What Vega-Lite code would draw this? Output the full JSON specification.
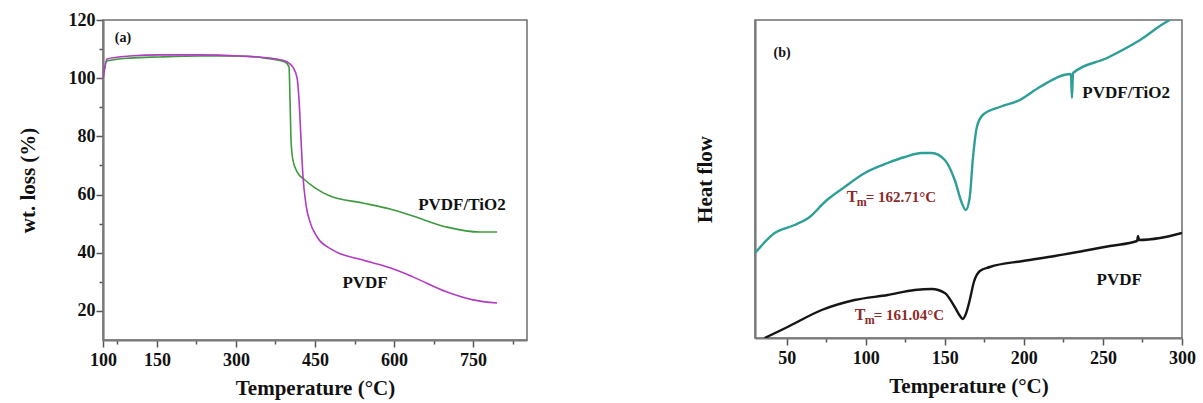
{
  "$schema": "https://vega.github.io/schema/vega-lite/v6.json",
  "background": "white",
  "padding": {"left": 16, "top": 10, "right": 5, "bottom": 2},
  "spacing": 165,
  "resolve": {"scale": {"color": "independent"}},
  "config": {
    "font": "Liberation Serif",
    "view": {"stroke": "#6e6e6e", "strokeWidth": 1.5},
    "axis": {
      "domainColor": "#7a7a7a",
      "domainWidth": 2.2,
      "tickColor": "#555555",
      "tickWidth": 1.5,
      "grid": false,
      "labelFont": "Liberation Serif",
      "labelFontWeight": "bold",
      "labelFontSize": 18,
      "labelColor": "#111111",
      "labelOverlap": false,
      "labelFlush": false,
      "titleFont": "Liberation Serif",
      "titleFontWeight": "bold",
      "titleFontSize": 21,
      "titleColor": "#111111"
    }
  },
  "datasets": {
    "tga": [
      {"sample": "PVDF/TiO2", "temp": 47.5, "wt": 99.7},
      {"sample": "PVDF/TiO2", "temp": 55, "wt": 105.9},
      {"sample": "PVDF/TiO2", "temp": 98.7, "wt": 106.9},
      {"sample": "PVDF/TiO2", "temp": 155.7, "wt": 107.3},
      {"sample": "PVDF/TiO2", "temp": 231.7, "wt": 107.6},
      {"sample": "PVDF/TiO2", "temp": 307.6, "wt": 107.6},
      {"sample": "PVDF/TiO2", "temp": 355, "wt": 106.9},
      {"sample": "PVDF/TiO2", "temp": 393, "wt": 105.6},
      {"sample": "PVDF/TiO2", "temp": 400.7, "wt": 103.8},
      {"sample": "PVDF/TiO2", "temp": 402.6, "wt": 92.5},
      {"sample": "PVDF/TiO2", "temp": 404.5, "wt": 78.75},
      {"sample": "PVDF/TiO2", "temp": 408, "wt": 71.9},
      {"sample": "PVDF/TiO2", "temp": 416, "wt": 67.8},
      {"sample": "PVDF/TiO2", "temp": 431, "wt": 65},
      {"sample": "PVDF/TiO2", "temp": 450, "wt": 62.3},
      {"sample": "PVDF/TiO2", "temp": 478.5, "wt": 59.5},
      {"sample": "PVDF/TiO2", "temp": 541, "wt": 57.1},
      {"sample": "PVDF/TiO2", "temp": 592.5, "wt": 55},
      {"sample": "PVDF/TiO2", "temp": 636, "wt": 52.6},
      {"sample": "PVDF/TiO2", "temp": 700.7, "wt": 48.8},
      {"sample": "PVDF/TiO2", "temp": 763, "wt": 47.1},
      {"sample": "PVDF/TiO2", "temp": 795.7, "wt": 47.1},
      {"sample": "PVDF", "temp": 47.5, "wt": 99.7},
      {"sample": "PVDF", "temp": 55, "wt": 106.6},
      {"sample": "PVDF", "temp": 98.7, "wt": 107.6},
      {"sample": "PVDF", "temp": 155.7, "wt": 108},
      {"sample": "PVDF", "temp": 231.7, "wt": 108},
      {"sample": "PVDF", "temp": 307.6, "wt": 107.6},
      {"sample": "PVDF", "temp": 364.6, "wt": 106.9},
      {"sample": "PVDF", "temp": 393, "wt": 105.9},
      {"sample": "PVDF", "temp": 408, "wt": 103.8},
      {"sample": "PVDF", "temp": 416, "wt": 100},
      {"sample": "PVDF", "temp": 419.7, "wt": 92.5},
      {"sample": "PVDF", "temp": 423.5, "wt": 78.75},
      {"sample": "PVDF", "temp": 427, "wt": 66.7},
      {"sample": "PVDF", "temp": 433, "wt": 56.4},
      {"sample": "PVDF", "temp": 440.5, "wt": 50.6},
      {"sample": "PVDF", "temp": 454, "wt": 45.4},
      {"sample": "PVDF", "temp": 484, "wt": 40.9},
      {"sample": "PVDF", "temp": 541, "wt": 37.5},
      {"sample": "PVDF", "temp": 592.5, "wt": 34.8},
      {"sample": "PVDF", "temp": 636, "wt": 31.7},
      {"sample": "PVDF", "temp": 700.7, "wt": 26.5},
      {"sample": "PVDF", "temp": 750, "wt": 23.8},
      {"sample": "PVDF", "temp": 795.7, "wt": 22.7}
    ],
    "tgaLabels": [
      {"label": "PVDF/TiO2", "temp": 729, "wt": 56.4},
      {"label": "PVDF", "temp": 545, "wt": 29.6}
    ],
    "tgaPanel": [{"label": "(a)", "temp": 85.4, "wt": 113.8}],
    "dsc": [
      {"sample": "PVDF/TiO2", "temp": 30, "hf": 8.5},
      {"sample": "PVDF/TiO2", "temp": 42.4, "hf": 10.5},
      {"sample": "PVDF/TiO2", "temp": 55.1, "hf": 11.3},
      {"sample": "PVDF/TiO2", "temp": 64.6, "hf": 12.1},
      {"sample": "PVDF/TiO2", "temp": 74.1, "hf": 13.6},
      {"sample": "PVDF/TiO2", "temp": 86.7, "hf": 15.1},
      {"sample": "PVDF/TiO2", "temp": 99.4, "hf": 16.5},
      {"sample": "PVDF/TiO2", "temp": 113.9, "hf": 17.5},
      {"sample": "PVDF/TiO2", "temp": 124.7, "hf": 18.1},
      {"sample": "PVDF/TiO2", "temp": 135.4, "hf": 18.5},
      {"sample": "PVDF/TiO2", "temp": 141.8, "hf": 18.5},
      {"sample": "PVDF/TiO2", "temp": 150, "hf": 17.8},
      {"sample": "PVDF/TiO2", "temp": 156.3, "hf": 15.8},
      {"sample": "PVDF/TiO2", "temp": 160.8, "hf": 13.5},
      {"sample": "PVDF/TiO2", "temp": 163.3, "hf": 12.8},
      {"sample": "PVDF/TiO2", "temp": 165.8, "hf": 14.1},
      {"sample": "PVDF/TiO2", "temp": 167.7, "hf": 17.8},
      {"sample": "PVDF/TiO2", "temp": 170.3, "hf": 21.1},
      {"sample": "PVDF/TiO2", "temp": 174, "hf": 22.3},
      {"sample": "PVDF/TiO2", "temp": 184.8, "hf": 23.1},
      {"sample": "PVDF/TiO2", "temp": 197.5, "hf": 23.8},
      {"sample": "PVDF/TiO2", "temp": 210.1, "hf": 25.1},
      {"sample": "PVDF/TiO2", "temp": 229.8, "hf": 26.4},
      {"sample": "PVDF/TiO2", "temp": 230.4, "hf": 24.0},
      {"sample": "PVDF/TiO2", "temp": 231.1, "hf": 26.5},
      {"sample": "PVDF/TiO2", "temp": 252.6, "hf": 28.0},
      {"sample": "PVDF/TiO2", "temp": 273.5, "hf": 29.8},
      {"sample": "PVDF/TiO2", "temp": 291.2, "hf": 31.7},
      {"sample": "PVDF/TiO2", "temp": 292.5, "hf": 31.8},
      {"sample": "PVDF", "temp": 36.1, "hf": 0},
      {"sample": "PVDF", "temp": 50.6, "hf": 1.1},
      {"sample": "PVDF", "temp": 72.2, "hf": 2.8},
      {"sample": "PVDF", "temp": 93.0, "hf": 3.8},
      {"sample": "PVDF", "temp": 113.9, "hf": 4.3},
      {"sample": "PVDF", "temp": 131.0, "hf": 4.8},
      {"sample": "PVDF", "temp": 141.8, "hf": 4.9},
      {"sample": "PVDF", "temp": 150.0, "hf": 4.5},
      {"sample": "PVDF", "temp": 156.3, "hf": 3.1},
      {"sample": "PVDF", "temp": 160.1, "hf": 2.1},
      {"sample": "PVDF", "temp": 161.4, "hf": 1.9},
      {"sample": "PVDF", "temp": 163.3, "hf": 2.4},
      {"sample": "PVDF", "temp": 165.8, "hf": 3.8},
      {"sample": "PVDF", "temp": 168.4, "hf": 5.6},
      {"sample": "PVDF", "temp": 172.2, "hf": 6.7},
      {"sample": "PVDF", "temp": 178.5, "hf": 7.1},
      {"sample": "PVDF", "temp": 199.4, "hf": 7.7},
      {"sample": "PVDF", "temp": 219.7, "hf": 8.2},
      {"sample": "PVDF", "temp": 237.4, "hf": 8.7},
      {"sample": "PVDF", "temp": 254.5, "hf": 9.2},
      {"sample": "PVDF", "temp": 271.6, "hf": 9.7},
      {"sample": "PVDF", "temp": 272.2, "hf": 10.2},
      {"sample": "PVDF", "temp": 272.8, "hf": 9.8},
      {"sample": "PVDF", "temp": 286.1, "hf": 10.0},
      {"sample": "PVDF", "temp": 300, "hf": 10.5}
    ],
    "dscLabels": [
      {"label": "PVDF/TiO2", "temp": 237, "hf": 24.5},
      {"label": "PVDF", "temp": 246, "hf": 5.8}
    ],
    "dscPanel": [{"label": "(b)", "temp": 47.1, "hf": 28.5}],
    "tm": [
      {"temp": 88.0, "hf": 14.1, "sym": "T", "sub": "m", "rest": "= 162.71°C"},
      {"temp": 93.0, "hf": 2.3, "sym": "T", "sub": "m", "rest": "= 161.04°C"}
    ]
  },
  "hconcat": [
    {
      "width": 424,
      "height": 320,
      "encoding": {
        "x": {
          "field": "temp", "type": "quantitative",
          "scale": {"domain": [47.5, 852.5], "nice": false, "zero": false},
          "axis": {
            "title": "Temperature (°C)",
            "values": [47.5, 75, 150, 225, 300, 375, 450, 525, 600, 675, 750, 825],
            "labelExpr": "datum.value < 60 ? '100' : (datum.value % 150 == 0 ? datum.label : '')",
            "tickSize": {"condition": {"test": "datum.value % 150 == 75", "value": 4}, "value": 7},
            "labelPadding": 4,
            "titlePadding": 8
          }
        },
        "y": {
          "field": "wt", "type": "quantitative",
          "scale": {"domain": [10, 120], "nice": false, "zero": false},
          "axis": {
            "title": "wt. loss (%)",
            "values": [20, 30, 40, 50, 60, 70, 80, 90, 100, 110, 120],
            "labelExpr": "datum.value % 20 == 0 ? datum.label : ''",
            "tickSize": {"condition": {"test": "datum.value % 20 == 10", "value": 4}, "value": 7},
            "labelPadding": 1,
            "titlePadding": 30
          }
        }
      },
      "layer": [
        {
          "data": {"name": "tga"},
          "mark": {"type": "line", "strokeWidth": 1.6, "clip": true, "interpolate": "monotone"},
          "encoding": {
            "color": {
              "field": "sample", "type": "nominal",
              "scale": {"domain": ["PVDF", "PVDF/TiO2"], "range": ["#b03cc0", "#3f9a3f"]},
              "legend": null
            }
          }
        },
        {
          "data": {"name": "tgaLabels"},
          "mark": {"type": "text", "font": "Liberation Serif", "fontWeight": "bold", "fontSize": 17, "color": "#111111"},
          "encoding": {"text": {"field": "label"}}
        },
        {
          "data": {"name": "tgaPanel"},
          "mark": {"type": "text", "font": "Liberation Serif", "fontWeight": "bold", "fontSize": 14, "color": "#111111"},
          "encoding": {"text": {"field": "label"}}
        }
      ]
    },
    {
      "width": 427,
      "height": 318,
      "encoding": {
        "x": {
          "field": "temp", "type": "quantitative",
          "scale": {"domain": [30, 300], "nice": false, "zero": false},
          "axis": {
            "title": "Temperature (°C)",
            "values": [50, 75, 100, 125, 150, 175, 200, 225, 250, 275, 300],
            "labelExpr": "datum.value % 50 == 0 ? datum.label : ''",
            "tickSize": {"condition": {"test": "datum.value % 50 == 25", "value": 4}, "value": 7},
            "labelPadding": 4,
            "titlePadding": 8
          }
        },
        "y": {
          "field": "hf", "type": "quantitative",
          "scale": {"domain": [0, 31.8], "nice": false, "zero": false},
          "axis": {
            "title": "Heat flow",
            "labels": false,
            "ticks": false,
            "titlePadding": 40
          }
        }
      },
      "layer": [
        {
          "data": {"name": "dsc"},
          "mark": {"type": "line", "strokeWidth": 2.4, "clip": true, "interpolate": "monotone"},
          "encoding": {
            "color": {
              "field": "sample", "type": "nominal",
              "scale": {"domain": ["PVDF", "PVDF/TiO2"], "range": ["#151515", "#2e9e98"]},
              "legend": null
            }
          }
        },
        {
          "data": {"name": "dscLabels"},
          "mark": {"type": "text", "align": "left", "font": "Liberation Serif", "fontWeight": "bold", "fontSize": 17, "color": "#111111"},
          "encoding": {"text": {"field": "label"}}
        },
        {
          "data": {"name": "dscPanel"},
          "mark": {"type": "text", "font": "Liberation Serif", "fontWeight": "bold", "fontSize": 14, "color": "#111111"},
          "encoding": {"text": {"field": "label"}}
        },
        {
          "data": {"name": "tm"},
          "mark": {"type": "text", "align": "left", "font": "Liberation Serif", "fontWeight": "bold", "fontSize": 16, "color": "#8b2a2a"},
          "encoding": {"text": {"field": "sym"}}
        },
        {
          "data": {"name": "tm"},
          "mark": {"type": "text", "align": "left", "dx": 10, "dy": 5, "font": "Liberation Serif", "fontWeight": "bold", "fontSize": 12, "color": "#8b2a2a"},
          "encoding": {"text": {"field": "sub"}}
        },
        {
          "data": {"name": "tm"},
          "mark": {"type": "text", "align": "left", "dx": 19, "font": "Liberation Serif", "fontWeight": "bold", "fontSize": 15, "color": "#8b2a2a"},
          "encoding": {"text": {"field": "rest"}}
        }
      ]
    }
  ]
}
